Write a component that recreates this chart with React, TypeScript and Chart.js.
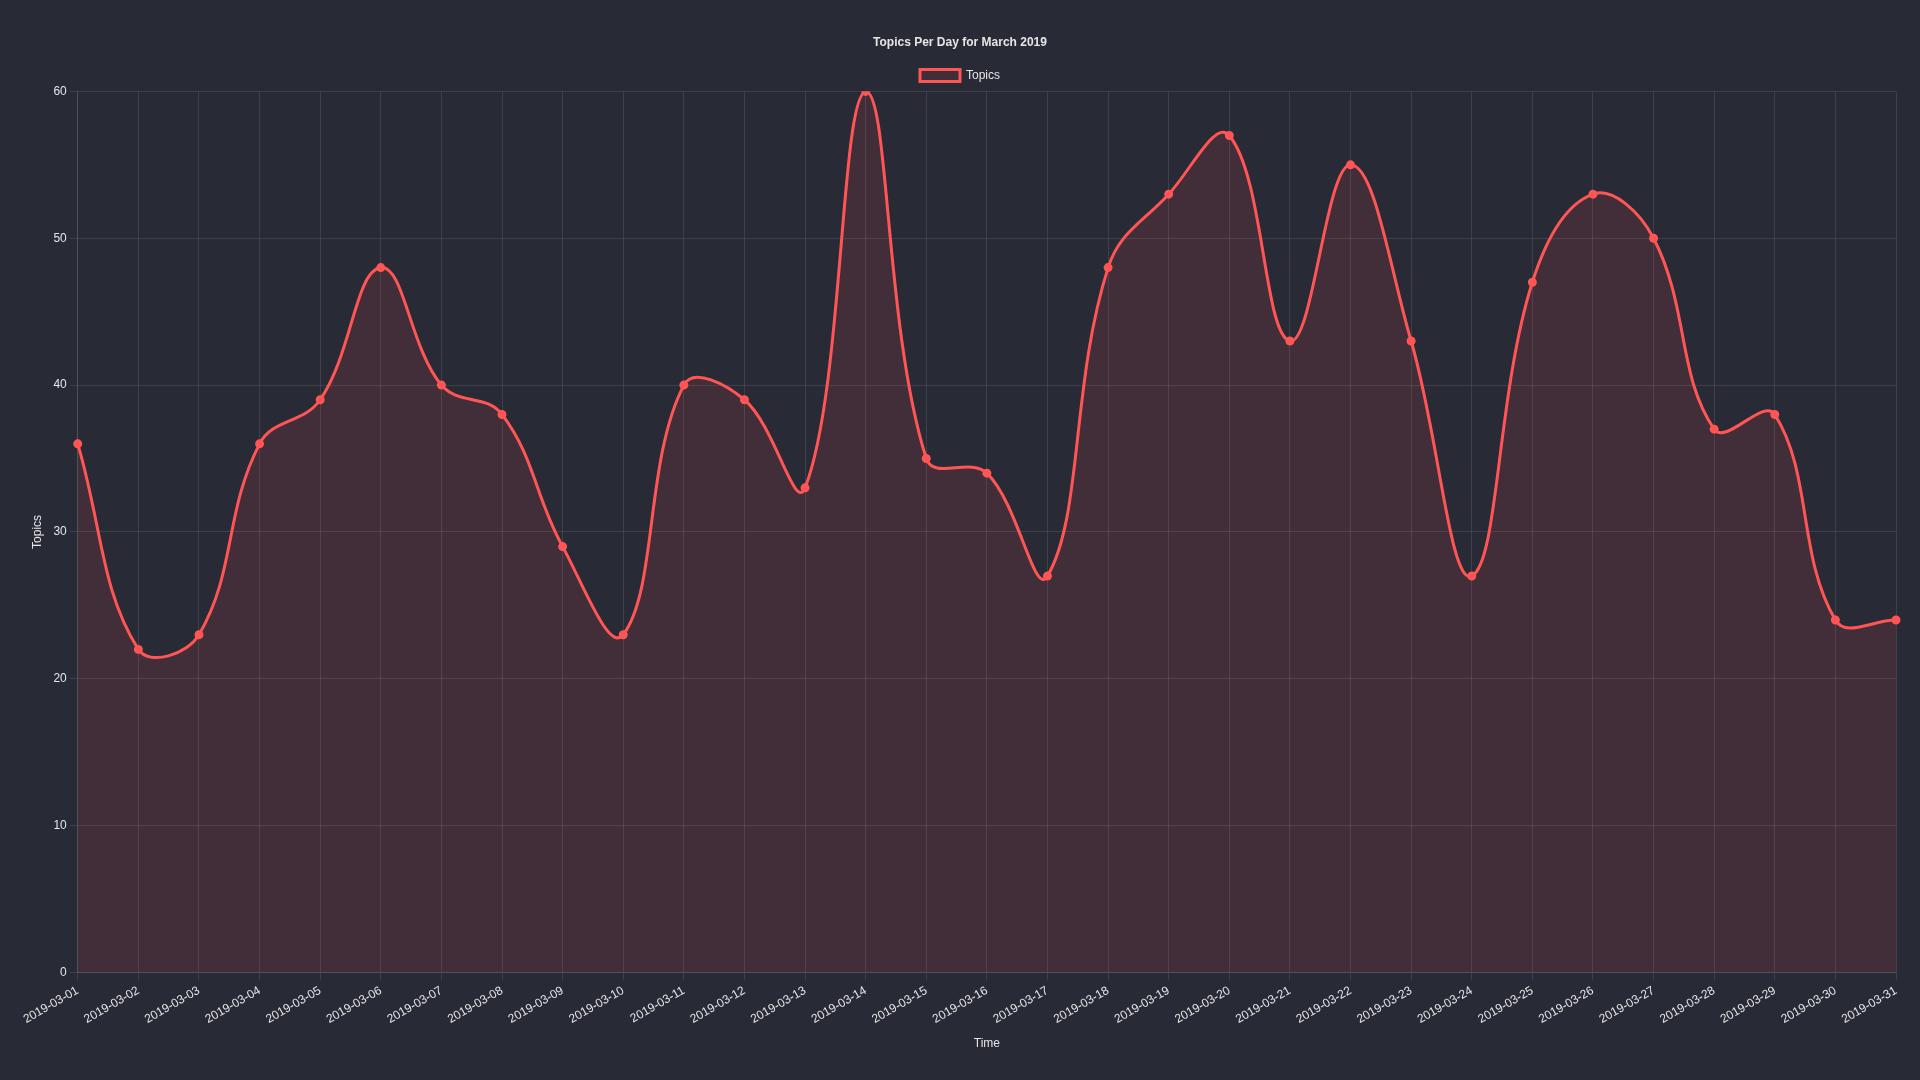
import React, { useEffect, useRef } from "react";
import { Chart, registerables } from "chart.js";

Chart.register(...registerables);

const dates: string[] = [
  "2019-03-01","2019-03-02","2019-03-03","2019-03-04","2019-03-05","2019-03-06","2019-03-07","2019-03-08",
  "2019-03-09","2019-03-10","2019-03-11","2019-03-12","2019-03-13","2019-03-14","2019-03-15","2019-03-16",
  "2019-03-17","2019-03-18","2019-03-19","2019-03-20","2019-03-21","2019-03-22","2019-03-23","2019-03-24",
  "2019-03-25","2019-03-26","2019-03-27","2019-03-28","2019-03-29","2019-03-30","2019-03-31",
];
const topics: number[] = [
  36, 22, 23, 36, 39, 48, 40, 38, 29, 23, 40, 39, 33, 60, 35, 34,
  27, 48, 53, 57, 43, 55, 43, 27, 47, 53, 50, 37, 38, 24, 24,
];

const BG = "#282a36";
const RED = "#ff5555";
const TEXT = "#e6e6e6";
const GRID = "rgba(255,255,255,0.1)";

export default function App() {
  const ref = useRef<HTMLCanvasElement | null>(null);
  useEffect(() => {
    if (!ref.current) return;
    Chart.defaults.font.family = "'Liberation Sans', Arial, sans-serif";
    const chart = new Chart(ref.current, {
      type: "line",
      data: {
        labels: dates,
        datasets: [
          {
            label: "Topics",
            data: topics,
            borderColor: RED,
            backgroundColor: "rgba(255,85,85,0.12)",
            fill: true,
            tension: 0.4,
            borderWidth: 3,
            pointRadius: 3,
            pointBackgroundColor: RED,
            pointBorderColor: RED,
          },
        ],
      },
      options: {
        responsive: true,
        maintainAspectRatio: false,
        animation: false,
        layout: { padding: { top: 15, right: 24, bottom: 25, left: 24 } },
        plugins: {
          title: {
            display: true,
            text: "Topics Per Day for March 2019",
            color: TEXT,
            font: { size: 12, weight: "bold" },
            padding: { top: 20, bottom: 10 },
          },
          legend: {
            labels: { color: TEXT, font: { size: 12 } },
          },
        },
        scales: {
          x: {
            title: { display: true, text: "Time", color: TEXT, font: { size: 12 }, padding: { top: 7, bottom: 4 } },
            ticks: { color: TEXT, maxRotation: 30, minRotation: 30, autoSkip: false, font: { size: 12 } },
            grid: { color: GRID },
            border: { color: GRID },
          },
          y: {
            min: 0,
            max: 60,
            title: { display: true, text: "Topics", color: TEXT, font: { size: 12 }, padding: { top: 6, bottom: 6 } },
            ticks: { color: TEXT, stepSize: 10, font: { size: 12 } },
            grid: { color: GRID },
            border: { color: GRID },
          },
        },
      },
    });
    return () => chart.destroy();
  }, []);
  return (
    <div style={{ position: "fixed", left: 0, top: 0, width: "1920px", height: "1080px", background: BG }}>
      <canvas ref={ref} />
    </div>
  );
}
